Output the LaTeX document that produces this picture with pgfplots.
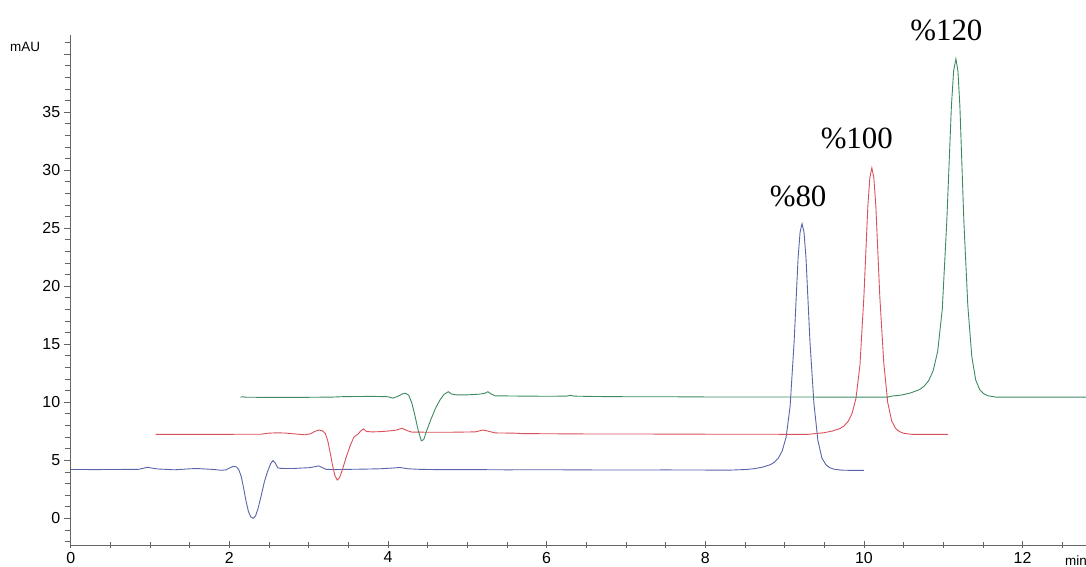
\documentclass[border=0pt]{standalone}
\usepackage{pgfplots}
\pgfplotsset{compat=1.18}
\usepackage{fontspec}
\setmainfont{Liberation Sans}
\newfontfamily\peakfont{Liberation Serif}
\definecolor{cblue}{RGB}{90,100,170}
\definecolor{cred}{RGB}{218,80,90}
\definecolor{cgreen}{RGB}{60,138,95}
\definecolor{axgray}{RGB}{100,100,100}
\begin{document}
\begin{tikzpicture}[x=1bp,y=1bp]
\begin{axis}[
  at={(70.7bp,22bp)}, anchor=south west,
  scale only axis, width=1015.3bp, height=510bp,
  xmin=0, xmax=12.8, ymin=-2.3, ymax=41.66,
  axis x line*=bottom, axis y line*=left,
  axis line style={axgray, line width=0.9bp, -},
  /pgf/number format/assume math mode=true,
  xtick={0,2,...,12},
  minor xtick={0.5,1,...,12.5},
  ytick={0,5,...,40},
  yticklabels={0,5,10,15,20,25,30,35,{}},
  minor ytick={-2,-1,...,41},
  xtick align=center, ytick align=outside,
  major tick length=7bp, minor tick length=6bp,
  every tick/.style={axgray, line width=0.8bp},
  tick label style={font=\fontsize{16}{16}\selectfont, text=black},
  clip=false,
]
\addplot[cblue, line width=0.9bp] coordinates {
(0,4.21) (0.3,4.20) (0.6,4.21) (0.85,4.22) (0.92,4.32) (0.97,4.40) (1.03,4.32) (1.1,4.25) (1.2,4.22) (1.3,4.18) (1.4,4.22) (1.5,4.27) (1.6,4.29) (1.7,4.25) (1.8,4.21) (1.9,4.14) (1.96,4.18) (2.0,4.33) (2.05,4.48) (2.09,4.43) (2.12,4.18) (2.15,3.6) (2.18,2.6) (2.21,1.5) (2.24,0.6) (2.27,0.12) (2.30,0.0) (2.33,0.2) (2.36,0.8) (2.40,1.9) (2.44,3.1) (2.48,4.0) (2.52,4.7) (2.55,4.98) (2.58,4.75) (2.61,4.35) (2.65,4.30) (2.8,4.29) (2.9,4.33) (3.0,4.36) (3.08,4.45) (3.13,4.52) (3.17,4.38) (3.22,4.22) (3.35,4.20) (3.5,4.22) (3.7,4.24) (3.9,4.27) (4.05,4.33) (4.15,4.38) (4.25,4.27) (4.4,4.22) (4.6,4.20) (5.0,4.20) (5.5,4.18) (6.0,4.19) (6.5,4.17) (7.0,4.16) (7.5,4.17) (8.0,4.16) (8.3,4.15) (8.52,4.21) (8.62,4.28) (8.72,4.41) (8.82,4.62) (8.87,4.83) (8.92,5.17) (8.97,5.81) (9.02,7.02) (9.07,9.68) (9.12,15.2) (9.17,22.43) (9.195,24.65) (9.22,25.4) (9.245,24.65) (9.27,22.43) (9.32,15.2) (9.37,9.89) (9.42,6.70) (9.47,5.21) (9.52,4.62) (9.57,4.36) (9.62,4.24) (9.72,4.15) (9.85,4.13) (10.0,4.13)
};
\addplot[cred, line width=0.9bp] coordinates {
(1.07,7.24) (1.5,7.23) (2.0,7.24) (2.4,7.25) (2.5,7.34) (2.6,7.37) (2.7,7.35) (2.85,7.26) (2.95,7.20) (3.02,7.28) (3.08,7.50) (3.13,7.61) (3.17,7.55) (3.21,7.32) (3.24,6.7) (3.27,5.7) (3.30,4.6) (3.33,3.7) (3.36,3.3) (3.39,3.5) (3.43,4.3) (3.47,5.2) (3.52,6.2) (3.57,7.0) (3.62,7.25) (3.66,7.55) (3.69,7.70) (3.73,7.48) (3.8,7.45) (3.9,7.47) (4.0,7.52) (4.1,7.60) (4.18,7.76) (4.24,7.56) (4.3,7.43) (4.5,7.42) (4.8,7.42) (5.1,7.45) (5.2,7.61) (5.27,7.50) (5.35,7.36) (5.6,7.34) (5.7,7.30) (6.0,7.29) (6.5,7.27) (7.0,7.27) (7.5,7.26) (8.0,7.25) (8.5,7.25) (9.0,7.24) (9.3,7.24) (9.40,7.31) (9.50,7.38) (9.60,7.52) (9.70,7.74) (9.75,7.97) (9.80,8.34) (9.85,9.03) (9.90,10.34) (9.95,13.20) (10.00,19.16) (10.05,26.96) (10.075,29.37) (10.10,30.2) (10.125,29.37) (10.15,26.96) (10.20,19.16) (10.25,13.43) (10.30,9.99) (10.35,8.39) (10.40,7.74) (10.45,7.47) (10.50,7.33) (10.60,7.24) (10.8,7.23) (11.06,7.24)
};
\addplot[cgreen, line width=0.9bp] coordinates {
(2.14,10.43) (2.16,10.48) (2.2,10.44) (2.5,10.42) (3.0,10.43) (3.3,10.45) (3.45,10.49) (3.8,10.51) (4.0,10.48) (4.06,10.36) (4.12,10.50) (4.18,10.72) (4.22,10.78) (4.26,10.62) (4.30,9.95) (4.34,8.85) (4.38,7.6) (4.42,6.68) (4.45,6.78) (4.49,7.6) (4.54,8.5) (4.60,9.5) (4.66,10.25) (4.71,10.7) (4.76,10.91) (4.80,10.72) (4.86,10.64) (5.0,10.64) (5.15,10.70) (5.22,10.78) (5.26,10.91) (5.30,10.72) (5.35,10.56) (5.6,10.54) (6.0,10.52) (6.25,10.53) (6.3,10.60) (6.35,10.53) (6.6,10.50) (7.0,10.48) (7.5,10.48) (8.0,10.46) (8.5,10.46) (9.0,10.46) (9.5,10.45) (10.0,10.45) (10.3,10.45) (10.355,10.54) (10.47,10.62) (10.585,10.80) (10.70,11.09) (10.758,11.38) (10.815,11.85) (10.873,12.72) (10.93,14.39) (10.988,18.03) (11.045,25.61) (11.103,35.52) (11.131,38.58) (11.16,39.6) (11.185,38.58) (11.21,35.52) (11.26,25.61) (11.31,18.32) (11.36,13.95) (11.41,11.91) (11.46,11.09) (11.51,10.74) (11.56,10.57) (11.66,10.45) (12.0,10.45) (12.4,10.44) (12.8,10.45)
};
\node[anchor=base, font=\peakfont\fontsize{31}{31}\selectfont] at (axis cs:9.17,26.86) {\%80};
\node[anchor=base, font=\peakfont\fontsize{31}{31}\selectfont] at (axis cs:9.91,31.9) {\%100};
\node[anchor=base, font=\peakfont\fontsize{31}{31}\selectfont] at (axis cs:11.04,41.17) {\%120};
\end{axis}
\node[anchor=base west, font=\fontsize{13.5}{13.5}\selectfont, inner sep=0pt] at (10,515.3) {mAU};
\node[anchor=base west, font=\fontsize{13.5}{13.5}\selectfont, inner sep=0pt] at (1065,1.5) {min};
\pgfresetboundingbox
\path (0,0) rectangle (1086,567);
\end{tikzpicture}
\end{document}
